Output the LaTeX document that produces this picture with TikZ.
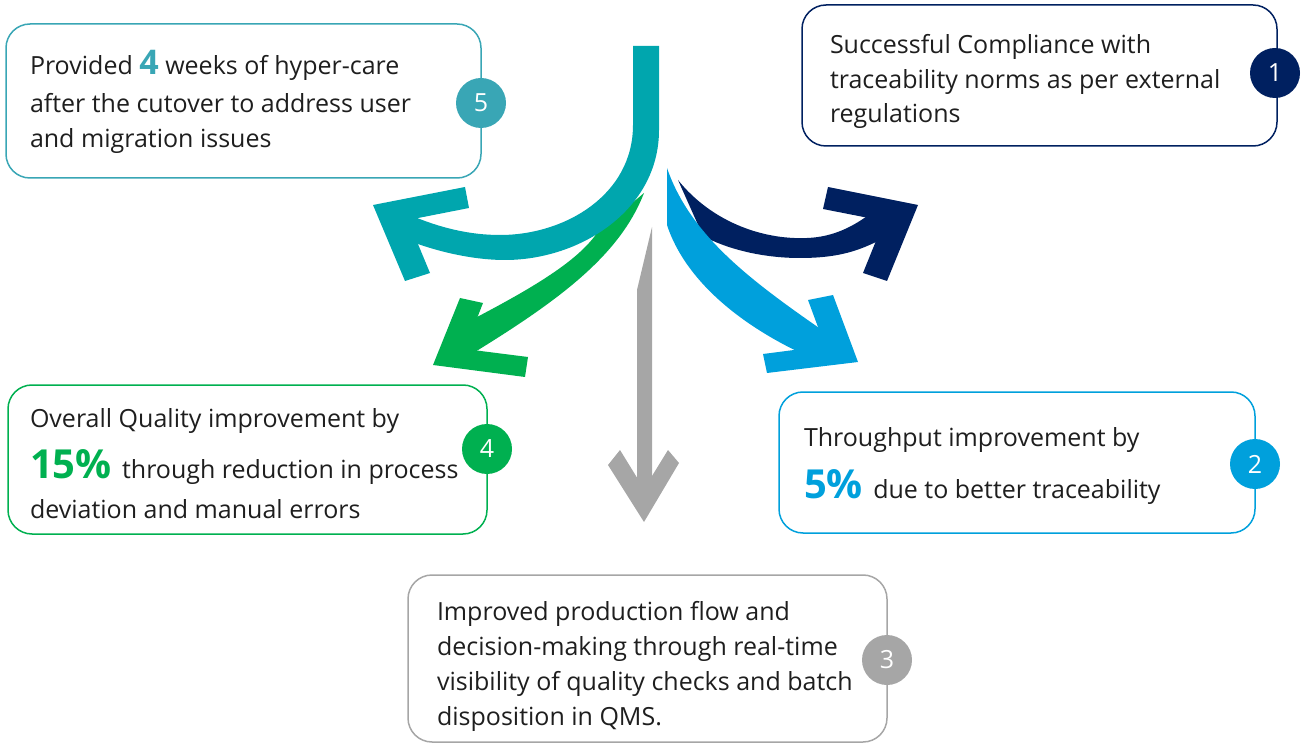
\documentclass[tikz,border=0pt]{standalone}
\usepackage{fontspec}
\setmainfont{Open Sans}
\definecolor{tealA}{RGB}{0,166,174}
\definecolor{tealB}{RGB}{57,166,181}
\definecolor{navy}{RGB}{0,32,96}
\definecolor{blueA}{RGB}{0,160,220}
\definecolor{greenA}{RGB}{0,176,80}
\definecolor{grayA}{RGB}{166,166,166}
\definecolor{txtc}{RGB}{30,30,30}
\begin{document}
\begin{tikzpicture}[x=1pt,y=-1pt,
  box/.style={draw, line width=1.5pt, rounded corners=24pt, inner sep=0pt, outer sep=0pt},
  badge/.style={circle, fill=#1, minimum size=50pt, inner sep=0pt, text=white, font=\fontsize{25}{30}\selectfont},
  txt/.style={anchor=base west, inner sep=0pt, outer sep=0pt, text=txtc, font=\fontsize{25}{30}\selectfont}
]
\useasboundingbox (0,0) rectangle (1307,743);

% ---------- arrows ----------
% gray (down)
\fill[grayA] (652,227) -- (652,497) -- (637,497) -- (637,290) -- cycle;
\fill[grayA] (644,522) -- (608,465) -- (620,450) -- (644,489) -- (668,450) -- (679,463) -- cycle;

% green
\fill[greenA] (644,193) .. controls (620,255) and (560,300) .. (470,355)
  -- (452,356) -- (452,330) .. controls (520,295) and (575,265) .. (597,233) -- cycle;
\fill[greenA] (433,365) -- (460,298) -- (483,303) -- (465,349) -- (528,357) -- (525,377) -- cycle;

% teal
\fill[tealA] (659,46) -- (659,130) .. controls (659,210) and (580,260) .. (505,260)
  .. controls (470,260) and (430,250) .. (400,237)
  -- (393,214) -- (410,215) .. controls (440,228) and (470,235) .. (500,235)
  .. controls (565,235) and (633,195) .. (633,125) -- (633,46) -- cycle;
\fill[tealA] (373,205) -- (465,187) -- (469,208) -- (408,220) -- (430,273) -- (405,281) -- cycle;

% navy
\fill[navy] (678,180) .. controls (710,220) and (760,240) .. (807,238)
  .. controls (835,237) and (855,225) .. (870,214)
  -- (898,216) -- (880,240) .. controls (860,250) and (840,258) .. (800,258)
  .. controls (760,258) and (725,248) .. (703,236) -- cycle;
\fill[navy] (918,205) -- (828,187) -- (823,209) -- (884,221) -- (863,273) -- (887,281) -- cycle;

% blue
\fill[blueA] (667,168) -- (667,225) .. controls (685,280) and (740,325) .. (805,355)
  -- (840,353) -- (822,330) .. controls (750,280) and (690,235) .. (667,168) -- cycle;
\fill[blueA] (858,362) -- (833,295) -- (808,300) -- (825,346) -- (763,354) -- (767,373) -- cycle;

% ---------- boxes ----------
\node[box, tealB, minimum width=475pt, minimum height=154pt] (box5) at (243.5,101) {};
\node[badge=tealB] (c5) at (481,103) {5};
\node[txt] (t5a) at (30,75) {Provided {\color{tealB}\fontsize{34}{34}\selectfont\bfseries 4} weeks of hyper-care};
\node[txt] (t5b) at (30,113) {after the cutover to address user};
\node[txt] (t5c) at (30,148) {and migration issues};

\node[box, navy, minimum width=475pt, minimum height=141pt] (box1) at (1039.5,75.5) {};
\node[badge=navy] (c1) at (1275,73) {1};
\node[txt] (t1a) at (830,54) {Successful Compliance with};
\node[txt] (t1b) at (830,89) {traceability norms as per external};
\node[txt] (t1c) at (830,123) {regulations};

\node[box, greenA, minimum width=479pt, minimum height=149pt] (box4) at (247.5,459.5) {};
\node[txt] (t4a) at (30,427) {Overall Quality improvement by};
\node[txt] (t4b) at (30,478) {{\color{greenA}\fontsize{40}{40}\selectfont\bfseries 15\% }through reduction in process};
\node[txt] (t4c) at (30,518) {deviation and manual errors};
\node[badge=greenA] (c4) at (487,449) {4};

\node[box, blueA, minimum width=476pt, minimum height=141pt] (box2) at (1017,462.5) {};
\node[badge=blueA] (c2) at (1255,464) {2};
\node[txt] (t2a) at (804,446) {Throughput improvement by};
\node[txt] (t2b) at (804,498) {{\color{blueA}\fontsize{40}{40}\selectfont\bfseries 5\% }due to better traceability};

\node[box, grayA, minimum width=479pt, minimum height=167pt] (box3) at (647.5,658.5) {};
\node[badge=grayA] (c3) at (887,660) {3};
\node[txt] (t3a) at (437,620) {Improved production flow and};
\node[txt] (t3b) at (437,655) {decision-making through real-time};
\node[txt] (t3c) at (437,690) {visibility of quality checks and batch};
\node[txt] (t3d) at (437,725) {disposition in QMS.};
\end{tikzpicture}
\end{document}
